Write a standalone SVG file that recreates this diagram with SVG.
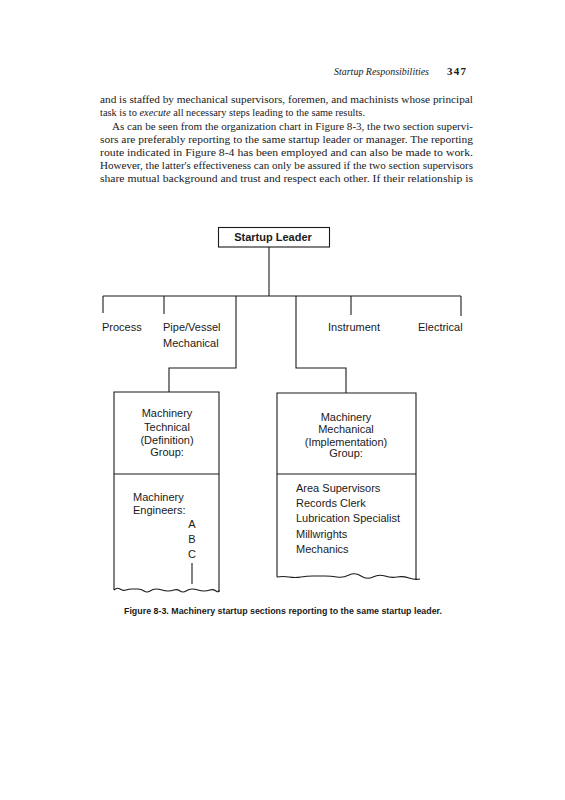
<svg xmlns="http://www.w3.org/2000/svg" width="565" height="800" viewBox="0 0 565 800">
<style>
.body{font-family:"Liberation Serif","Times New Roman",serif;font-size:11px;fill:#1a1a1a}
.lbl{font-family:"Liberation Sans",Arial,sans-serif;font-size:11px;fill:#1a1a1a}
.ln{fill:none;stroke:#1a1a1a;stroke-width:1.1}
</style>
<rect width="565" height="800" fill="#ffffff"/>
<g id="header">
<text x="334" y="75" class="body" font-style="italic" textLength="95" lengthAdjust="spacingAndGlyphs">Startup Responsibilities</text>
<text x="447" y="75" class="body" font-weight="bold" textLength="19">347</text>
</g>
<g id="paragraph">
<text x="100" y="103" class="body" textLength="373" lengthAdjust="spacingAndGlyphs">and is staffed by mechanical supervisors, foremen, and machinists whose principal</text>
<text x="100" y="116" class="body" textLength="265" lengthAdjust="spacingAndGlyphs">task is to <tspan font-style="italic">execute</tspan> all necessary steps leading to the same results.</text>
<text x="112" y="130" class="body" textLength="361" lengthAdjust="spacingAndGlyphs">As can be seen from the organization chart in Figure 8-3, the two section supervi-</text>
<text x="100" y="143" class="body" textLength="373" lengthAdjust="spacingAndGlyphs">sors are preferably reporting to the same startup leader or manager. The reporting</text>
<text x="100" y="156" class="body" textLength="373" lengthAdjust="spacingAndGlyphs">route indicated in Figure 8-4 has been employed and can also be made to work.</text>
<text x="100" y="169" class="body" textLength="373" lengthAdjust="spacingAndGlyphs">However, the latter's effectiveness can only be assured if the two section supervisors</text>
<text x="100" y="182" class="body" textLength="373" lengthAdjust="spacingAndGlyphs">share mutual background and trust and respect each other. If their relationship is</text>
</g>
<g id="connectors">
<path class="ln" d="M269 247V296"/>
<path class="ln" d="M103 296H461"/>
<path class="ln" d="M103 296V313"/>
<path class="ln" d="M164 296V314"/>
<path class="ln" d="M236 296V368H169V392"/>
<path class="ln" d="M296 296V368H346V393"/>
<path class="ln" d="M351 296V315"/>
<path class="ln" d="M461 296V316"/>
</g>
<g id="startup-leader">
<rect x="218.5" y="227.5" width="111" height="19.5" class="ln"/>
<text x="273" y="241" class="lbl" font-weight="bold" text-anchor="middle">Startup Leader</text>
</g>
<g id="process"><text x="102" y="331" class="lbl">Process</text></g>
<g id="pipe-vessel">
<text x="163" y="331" class="lbl">Pipe/Vessel</text>
<text x="163" y="347" class="lbl">Mechanical</text>
</g>
<g id="instrument"><text x="328" y="331" class="lbl">Instrument</text></g>
<g id="electrical"><text x="418" y="331" class="lbl">Electrical</text></g>
<g id="technical-group">
<path class="ln" d="M114 590V392H219V592"/>
<path class="ln" d="M114 474H219"/>
<path class="ln" d="M114 590q3 -3 6 -1t6 1t6 -1t6 0t6 2t6 0t6 -2t6 1t6 1t6 -1t6 1t6 0t6 -2t6 1t6 1t6 -1t6 1t3 -1"/>
<text x="167" y="417" class="lbl" text-anchor="middle">Machinery</text>
<text x="167" y="431" class="lbl" text-anchor="middle">Technical</text>
<text x="167" y="444" class="lbl" text-anchor="middle">(Definition)</text>
<text x="167" y="456" class="lbl" text-anchor="middle">Group:</text>
<text x="133" y="501" class="lbl">Machinery</text>
<text x="133" y="514" class="lbl">Engineers:</text>
<text x="192" y="528" class="lbl" text-anchor="middle">A</text>
<text x="192" y="543" class="lbl" text-anchor="middle">B</text>
<text x="192" y="558" class="lbl" text-anchor="middle">C</text>
<path class="ln" d="M192 563V584"/>
</g>
<g id="mechanical-group">
<path class="ln" d="M277 577V393H416V580"/>
<path class="ln" d="M277 474H416"/>
<path class="ln" d="M277 577q6 -1 12 0t12 0t12 -1t12 0t12 1t12 -2t12 1t12 1t12 -1t12 1t12 1t11 1"/>
<text x="346" y="421" class="lbl" text-anchor="middle">Machinery</text>
<text x="346" y="433" class="lbl" text-anchor="middle">Mechanical</text>
<text x="346" y="446" class="lbl" text-anchor="middle">(Implementation)</text>
<text x="346" y="457" class="lbl" text-anchor="middle">Group:</text>
<text x="296" y="492" class="lbl">Area Supervisors</text>
<text x="296" y="507" class="lbl">Records Clerk</text>
<text x="296" y="522" class="lbl">Lubrication Specialist</text>
<text x="296" y="538" class="lbl">Millwrights</text>
<text x="296" y="553" class="lbl">Mechanics</text>
</g>
<g id="caption">
<text x="124" y="614" font-family="'Liberation Sans',Arial,sans-serif" font-size="9" font-weight="bold" fill="#1a1a1a" textLength="318" lengthAdjust="spacingAndGlyphs">Figure 8-3. Machinery startup sections reporting to the same startup leader.</text>
</g>
</svg>
